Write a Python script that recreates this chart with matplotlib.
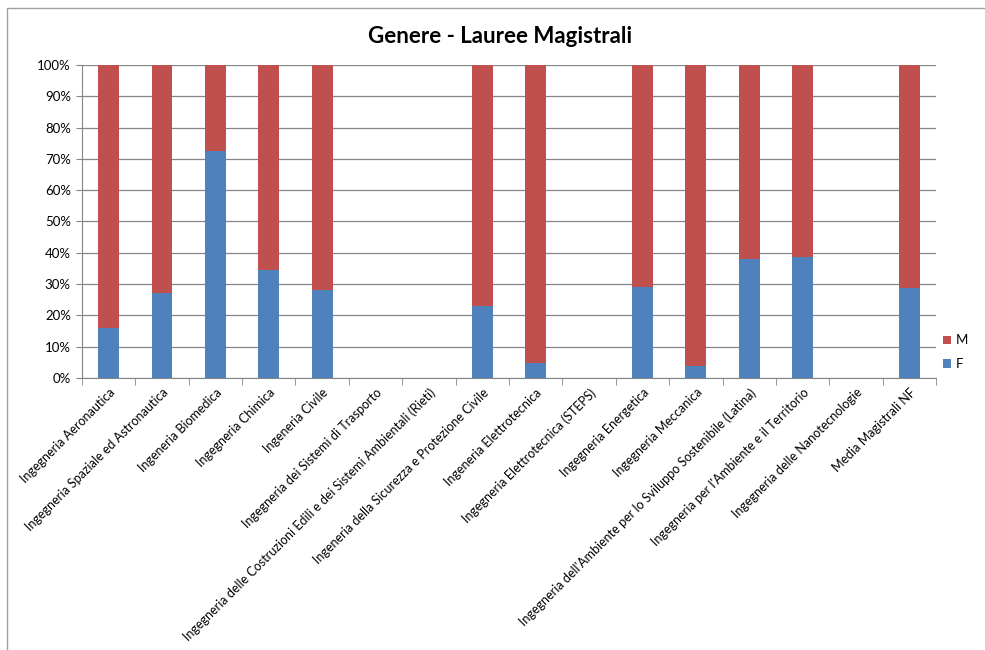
import numpy as np
import matplotlib
matplotlib.use("Agg")
import matplotlib.pyplot as plt
from matplotlib.patches import Rectangle

corsi = [
    "Ingegneria Aeronautica",
    "Ingegneria Spaziale ed Astronautica",
    "Ingeneria Biomedica",
    "Ingegneria Chimica",
    "Ingeneria Civile",
    "Ingegneria dei Sistemi di Trasporto",
    "Ingegneria delle Costruzioni Edili e dei Sistemi Ambientali (Rieti)",
    "Ingeneria della Sicurezza e Protezione Civile",
    "Ingeneria Elettrotecnica",
    "Ingegneria Elettrotecnica (STEPS)",
    "Ingegneria Energetica",
    "Ingegneria Meccanica",
    "Ingegneria dell'Ambiente per lo Sviluppo Sostenibile (Latina)",
    "Ingegneria per l'Ambiente e il Territorio",
    "Ingegneria delle Nanotecnologie",
    "Media Magistrali NF",
]
# quota femminile (%), nan = nessun dato
femmine = [16.1, 27.2, 72.5, 34.4, 28.1, np.nan, np.nan, 23.0, 4.8, np.nan,
           29.0, 3.7, 38.0, 38.6, np.nan, 28.7]
maschi = [100 - f if not np.isnan(f) else np.nan for f in femmine]

plt.rcParams['font.family'] = ['Lato', 'DejaVu Sans']

fig = plt.figure(figsize=(9.85, 6.5), dpi=100)
fig.patches.append(Rectangle((0.007, -0.01), 1.2, 0.997, transform=fig.transFigure,
                             fill=False, edgecolor="#a0a0a0", lw=1))
ax = fig.add_axes([0.0832, 0.4185, 0.8671, 0.4815])

x = np.arange(len(corsi))
f = np.nan_to_num(femmine)
m = np.nan_to_num(maschi)
ax.bar(x, f, width=0.39, color="#4f81bd", label="F", zorder=3)
ax.bar(x, m, width=0.39, bottom=f, color="#c0504d", label="M", zorder=3)

ax.set_xlim(-0.5, len(corsi) - 0.5)
ax.set_ylim(0, 100)
ax.set_yticks(np.arange(0, 101, 10))
ax.set_yticklabels([f"{v}%" for v in range(0, 101, 10)], fontsize=9.5)
ax.yaxis.grid(True, color="#868686", lw=0.9, zorder=0)

ax.set_xticks(x)
ax.set_xticklabels(corsi, rotation=45, ha="right", rotation_mode="anchor", fontsize=9)
ax.tick_params(axis="x", length=0, pad=6)
ax.set_xticks(np.arange(-0.5, len(corsi)), minor=True)
ax.tick_params(axis="x", which="minor", length=5, color="#868686")
ax.tick_params(axis="y", length=4, color="#868686", pad=4)

for s in ["top", "right"]:
    ax.spines[s].set_visible(False)
for s in ["left", "bottom"]:
    ax.spines[s].set_color("#868686")

fig.text(0.508, 0.944, "Genere - Lauree Magistrali", ha="center", va="center",
         fontsize=16, fontweight="bold")

h, l = ax.get_legend_handles_labels()
fig.legend(h[::-1], l[::-1], loc="center left", bbox_to_anchor=(0.952, 0.458),
           frameon=False, fontsize=9.5, handlelength=0.6, handleheight=0.6,
           handletextpad=0.4, labelspacing=0.9, borderaxespad=0)

fig.savefig("out.png", dpi=100)
